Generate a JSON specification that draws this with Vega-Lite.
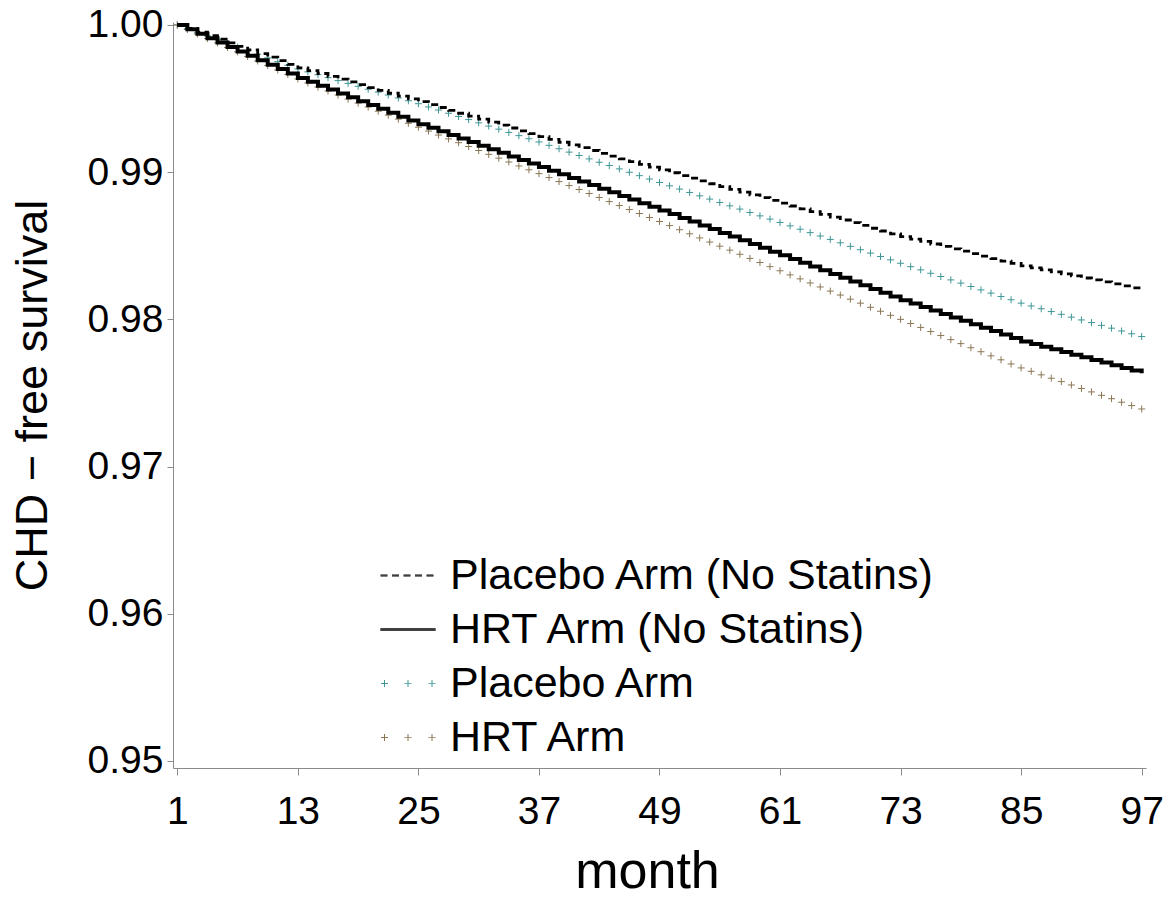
{
  "$schema": "https://vega.github.io/schema/vega-lite/v6.json",
  "width": 973,
  "height": 746,
  "autosize": {"type": "none"},
  "padding": {"left": 173, "top": 22, "right": 29, "bottom": 130},
  "background": "white",
  "config": {"view": {"stroke": null}, "font": "Liberation Sans"},
  "data": {"name": "km"},
  "datasets": {
    "km": [
      {"month":1,"plaNS":1.00000,"hrtNS":1.00000,"pla":1.00000,"hrt":1.00000},
      {"month":2,"plaNS":0.99976,"hrtNS":0.99970,"pla":0.99975,"hrt":0.99969},
      {"month":3,"plaNS":0.99951,"hrtNS":0.99940,"pla":0.99950,"hrt":0.99939},
      {"month":4,"plaNS":0.99927,"hrtNS":0.99910,"pla":0.99925,"hrt":0.99908},
      {"month":5,"plaNS":0.99903,"hrtNS":0.99880,"pla":0.99900,"hrt":0.99878},
      {"month":6,"plaNS":0.99878,"hrtNS":0.99850,"pla":0.99875,"hrt":0.99847},
      {"month":7,"plaNS":0.99854,"hrtNS":0.99820,"pla":0.99850,"hrt":0.99817},
      {"month":8,"plaNS":0.99830,"hrtNS":0.99790,"pla":0.99826,"hrt":0.99786},
      {"month":9,"plaNS":0.99805,"hrtNS":0.99760,"pla":0.99801,"hrt":0.99755},
      {"month":10,"plaNS":0.99781,"hrtNS":0.99730,"pla":0.99776,"hrt":0.99725},
      {"month":11,"plaNS":0.99757,"hrtNS":0.99700,"pla":0.99751,"hrt":0.99694},
      {"month":12,"plaNS":0.99732,"hrtNS":0.99670,"pla":0.99726,"hrt":0.99664},
      {"month":13,"plaNS":0.99708,"hrtNS":0.99640,"pla":0.99701,"hrt":0.99633},
      {"month":14,"plaNS":0.99689,"hrtNS":0.99614,"pla":0.99681,"hrt":0.99606},
      {"month":15,"plaNS":0.99670,"hrtNS":0.99587,"pla":0.99662,"hrt":0.99578},
      {"month":16,"plaNS":0.99651,"hrtNS":0.99561,"pla":0.99642,"hrt":0.99551},
      {"month":17,"plaNS":0.99632,"hrtNS":0.99535,"pla":0.99622,"hrt":0.99524},
      {"month":18,"plaNS":0.99613,"hrtNS":0.99509,"pla":0.99603,"hrt":0.99496},
      {"month":19,"plaNS":0.99594,"hrtNS":0.99482,"pla":0.99583,"hrt":0.99469},
      {"month":20,"plaNS":0.99574,"hrtNS":0.99456,"pla":0.99563,"hrt":0.99442},
      {"month":21,"plaNS":0.99555,"hrtNS":0.99430,"pla":0.99544,"hrt":0.99414},
      {"month":22,"plaNS":0.99536,"hrtNS":0.99404,"pla":0.99524,"hrt":0.99387},
      {"month":23,"plaNS":0.99517,"hrtNS":0.99377,"pla":0.99504,"hrt":0.99360},
      {"month":24,"plaNS":0.99498,"hrtNS":0.99351,"pla":0.99485,"hrt":0.99332},
      {"month":25,"plaNS":0.99479,"hrtNS":0.99325,"pla":0.99465,"hrt":0.99305},
      {"month":26,"plaNS":0.99459,"hrtNS":0.99301,"pla":0.99443,"hrt":0.99279},
      {"month":27,"plaNS":0.99439,"hrtNS":0.99277,"pla":0.99422,"hrt":0.99252},
      {"month":28,"plaNS":0.99419,"hrtNS":0.99252,"pla":0.99400,"hrt":0.99226},
      {"month":29,"plaNS":0.99400,"hrtNS":0.99228,"pla":0.99378,"hrt":0.99200},
      {"month":30,"plaNS":0.99380,"hrtNS":0.99204,"pla":0.99357,"hrt":0.99174},
      {"month":31,"plaNS":0.99360,"hrtNS":0.99180,"pla":0.99335,"hrt":0.99147},
      {"month":32,"plaNS":0.99340,"hrtNS":0.99156,"pla":0.99313,"hrt":0.99121},
      {"month":33,"plaNS":0.99320,"hrtNS":0.99132,"pla":0.99292,"hrt":0.99095},
      {"month":34,"plaNS":0.99300,"hrtNS":0.99107,"pla":0.99270,"hrt":0.99069},
      {"month":35,"plaNS":0.99281,"hrtNS":0.99083,"pla":0.99248,"hrt":0.99042},
      {"month":36,"plaNS":0.99261,"hrtNS":0.99059,"pla":0.99227,"hrt":0.99016},
      {"month":37,"plaNS":0.99241,"hrtNS":0.99035,"pla":0.99205,"hrt":0.98990},
      {"month":38,"plaNS":0.99222,"hrtNS":0.99010,"pla":0.99182,"hrt":0.98963},
      {"month":39,"plaNS":0.99203,"hrtNS":0.98986,"pla":0.99159,"hrt":0.98936},
      {"month":40,"plaNS":0.99185,"hrtNS":0.98961,"pla":0.99136,"hrt":0.98909},
      {"month":41,"plaNS":0.99166,"hrtNS":0.98937,"pla":0.99113,"hrt":0.98882},
      {"month":42,"plaNS":0.99147,"hrtNS":0.98912,"pla":0.99090,"hrt":0.98855},
      {"month":43,"plaNS":0.99128,"hrtNS":0.98888,"pla":0.99067,"hrt":0.98828},
      {"month":44,"plaNS":0.99109,"hrtNS":0.98863,"pla":0.99045,"hrt":0.98800},
      {"month":45,"plaNS":0.99090,"hrtNS":0.98838,"pla":0.99022,"hrt":0.98773},
      {"month":46,"plaNS":0.99072,"hrtNS":0.98814,"pla":0.98999,"hrt":0.98746},
      {"month":47,"plaNS":0.99053,"hrtNS":0.98789,"pla":0.98976,"hrt":0.98719},
      {"month":48,"plaNS":0.99034,"hrtNS":0.98765,"pla":0.98953,"hrt":0.98692},
      {"month":49,"plaNS":0.99015,"hrtNS":0.98740,"pla":0.98930,"hrt":0.98665},
      {"month":50,"plaNS":0.98996,"hrtNS":0.98715,"pla":0.98907,"hrt":0.98637},
      {"month":51,"plaNS":0.98977,"hrtNS":0.98689,"pla":0.98885,"hrt":0.98609},
      {"month":52,"plaNS":0.98959,"hrtNS":0.98664,"pla":0.98862,"hrt":0.98581},
      {"month":53,"plaNS":0.98940,"hrtNS":0.98638,"pla":0.98839,"hrt":0.98553},
      {"month":54,"plaNS":0.98921,"hrtNS":0.98613,"pla":0.98817,"hrt":0.98525},
      {"month":55,"plaNS":0.98902,"hrtNS":0.98587,"pla":0.98794,"hrt":0.98497},
      {"month":56,"plaNS":0.98883,"hrtNS":0.98562,"pla":0.98771,"hrt":0.98470},
      {"month":57,"plaNS":0.98864,"hrtNS":0.98537,"pla":0.98749,"hrt":0.98442},
      {"month":58,"plaNS":0.98846,"hrtNS":0.98511,"pla":0.98726,"hrt":0.98414},
      {"month":59,"plaNS":0.98827,"hrtNS":0.98486,"pla":0.98703,"hrt":0.98386},
      {"month":60,"plaNS":0.98808,"hrtNS":0.98460,"pla":0.98681,"hrt":0.98358},
      {"month":61,"plaNS":0.98789,"hrtNS":0.98435,"pla":0.98658,"hrt":0.98330},
      {"month":62,"plaNS":0.98770,"hrtNS":0.98410,"pla":0.98635,"hrt":0.98302},
      {"month":63,"plaNS":0.98751,"hrtNS":0.98384,"pla":0.98612,"hrt":0.98275},
      {"month":64,"plaNS":0.98732,"hrtNS":0.98359,"pla":0.98589,"hrt":0.98247},
      {"month":65,"plaNS":0.98713,"hrtNS":0.98333,"pla":0.98566,"hrt":0.98220},
      {"month":66,"plaNS":0.98694,"hrtNS":0.98308,"pla":0.98543,"hrt":0.98192},
      {"month":67,"plaNS":0.98675,"hrtNS":0.98282,"pla":0.98520,"hrt":0.98165},
      {"month":68,"plaNS":0.98657,"hrtNS":0.98257,"pla":0.98496,"hrt":0.98137},
      {"month":69,"plaNS":0.98638,"hrtNS":0.98232,"pla":0.98473,"hrt":0.98110},
      {"month":70,"plaNS":0.98619,"hrtNS":0.98206,"pla":0.98450,"hrt":0.98082},
      {"month":71,"plaNS":0.98600,"hrtNS":0.98181,"pla":0.98427,"hrt":0.98055},
      {"month":72,"plaNS":0.98581,"hrtNS":0.98155,"pla":0.98404,"hrt":0.98027},
      {"month":73,"plaNS":0.98562,"hrtNS":0.98130,"pla":0.98381,"hrt":0.98000},
      {"month":74,"plaNS":0.98545,"hrtNS":0.98107,"pla":0.98358,"hrt":0.97972},
      {"month":75,"plaNS":0.98529,"hrtNS":0.98083,"pla":0.98336,"hrt":0.97945},
      {"month":76,"plaNS":0.98512,"hrtNS":0.98060,"pla":0.98313,"hrt":0.97917},
      {"month":77,"plaNS":0.98496,"hrtNS":0.98037,"pla":0.98291,"hrt":0.97890},
      {"month":78,"plaNS":0.98479,"hrtNS":0.98013,"pla":0.98268,"hrt":0.97862},
      {"month":79,"plaNS":0.98463,"hrtNS":0.97990,"pla":0.98246,"hrt":0.97835},
      {"month":80,"plaNS":0.98446,"hrtNS":0.97967,"pla":0.98223,"hrt":0.97807},
      {"month":81,"plaNS":0.98429,"hrtNS":0.97943,"pla":0.98200,"hrt":0.97780},
      {"month":82,"plaNS":0.98413,"hrtNS":0.97920,"pla":0.98178,"hrt":0.97752},
      {"month":83,"plaNS":0.98396,"hrtNS":0.97897,"pla":0.98155,"hrt":0.97725},
      {"month":84,"plaNS":0.98380,"hrtNS":0.97873,"pla":0.98133,"hrt":0.97697},
      {"month":85,"plaNS":0.98363,"hrtNS":0.97850,"pla":0.98110,"hrt":0.97670},
      {"month":86,"plaNS":0.98349,"hrtNS":0.97832,"pla":0.98091,"hrt":0.97647},
      {"month":87,"plaNS":0.98336,"hrtNS":0.97814,"pla":0.98072,"hrt":0.97623},
      {"month":88,"plaNS":0.98322,"hrtNS":0.97796,"pla":0.98053,"hrt":0.97600},
      {"month":89,"plaNS":0.98309,"hrtNS":0.97778,"pla":0.98034,"hrt":0.97577},
      {"month":90,"plaNS":0.98295,"hrtNS":0.97760,"pla":0.98015,"hrt":0.97554},
      {"month":91,"plaNS":0.98281,"hrtNS":0.97742,"pla":0.97996,"hrt":0.97530},
      {"month":92,"plaNS":0.98268,"hrtNS":0.97724,"pla":0.97978,"hrt":0.97507},
      {"month":93,"plaNS":0.98254,"hrtNS":0.97706,"pla":0.97959,"hrt":0.97484},
      {"month":94,"plaNS":0.98241,"hrtNS":0.97688,"pla":0.97940,"hrt":0.97461},
      {"month":95,"plaNS":0.98227,"hrtNS":0.97670,"pla":0.97921,"hrt":0.97437},
      {"month":96,"plaNS":0.98214,"hrtNS":0.97652,"pla":0.97902,"hrt":0.97414},
      {"month":97,"plaNS":0.98200,"hrtNS":0.97634,"pla":0.97883,"hrt":0.97391}
    ]
  },
  "transform": [{"fold": ["plaNS", "hrtNS", "pla", "hrt"], "as": ["key", "v"]}],
  "encoding": {
    "x": {"field": "month", "type": "quantitative", "scale": {"domain": [0.57, 97.43], "nice": false, "zero": false},
      "axis": {"values": [1, 13, 25, 37, 49, 61, 73, 85, 97], "title": "month", "grid": false, "tickSize": 7, "labelPadding": 17, "labelFontSize": 39, "labelFont": "Liberation Sans", "labelColor": "black", "titleFont": "Liberation Sans", "titleFontSize": 52, "titleFontWeight": "normal", "titleColor": "black", "titleX": 474, "titleY": 119, "titleAlign": "center", "titleBaseline": "alphabetic", "domainColor": "#8a8a8a", "tickColor": "#8a8a8a", "domainWidth": 1, "tickWidth": 1, "labelFlush": false, "labelOverlap": false}},
    "y": {"field": "v", "type": "quantitative", "scale": {"domain": [0.94952, 1.0002], "nice": false, "zero": false},
      "axis": {"values": [0.95, 0.96, 0.97, 0.98, 0.99, 1.0], "format": ".2f", "title": "CHD − free survival", "grid": false, "tickSize": 6, "labelPadding": 4, "labelFontSize": 39, "labelFont": "Liberation Sans", "labelColor": "black", "titleFont": "Liberation Sans", "titleFontSize": 45, "titleFontWeight": "normal", "titleColor": "black", "titleX": -127, "titleY": 373, "titleAngle": -90, "titleBaseline": "alphabetic", "titleAlign": "center", "domainColor": "#8a8a8a", "tickColor": "#8a8a8a", "domainWidth": 1, "tickWidth": 1, "labelFlush": false, "labelOverlap": false}}
  },
  "layer": [
    {
      "transform": [{"filter": {"field": "key", "oneOf": ["pla", "hrt"]}}],
      "mark": {"type": "point", "shape": "M-1,0H1M0,-1V1", "size": 49, "filled": false, "strokeWidth": 1, "opacity": 1},
      "encoding": {
        "color": {"field": "key", "type": "nominal",
          "scale": {"domain": ["plaNS", "hrtNS", "pla", "hrt"], "range": ["#000000", "#000000", "#3F9696", "#8B7755"]},
          "legend": {"orient": "none", "legendX": 213.5, "legendY": 532, "title": null, "padding": 0,
            "labelFontSize": 43, "labelFont": "Liberation Sans", "labelColor": "black", "labelLimit": 1000, "labelOffset": 20.5,
            "symbolSize": 400, "symbolStrokeWidth": 1, "rowPadding": 10, "symbolOpacity": 1,
            "labelExpr": "datum.value == 'plaNS' ? 'Placebo Arm (No Statins)' : datum.value == 'hrtNS' ? 'HRT Arm (No Statins)' : datum.value == 'pla' ? 'Placebo Arm' : 'HRT Arm'"}}
      }
    },
    {
      "transform": [{"filter": {"field": "key", "oneOf": ["plaNS", "hrtNS"]}}],
      "mark": {"type": "line", "interpolate": "step-after"},
      "encoding": {
        "color": {"field": "key", "type": "nominal"},
        "strokeDash": {"field": "key", "type": "nominal",
          "scale": {"domain": ["plaNS", "hrtNS", "pla", "hrt"], "range": [[7, 4.5], [1, 0], [1, 0], [1, 0]]}},
        "strokeWidth": {"condition": {"test": "datum.key == 'hrtNS'", "value": 4}, "value": 2.8}
      }
    },
    {
      "transform": [{"filter": "datum.v > 2"}],
      "mark": {"type": "point", "filled": false, "opacity": 1, "strokeWidth": 1},
      "encoding": {
        "color": {"field": "key", "type": "nominal"},
        "shape": {"field": "key", "type": "nominal",
          "scale": {"domain": ["plaNS", "hrtNS", "pla", "hrt"], "range": ["M-2.75,-0.05H2.75M-2.75,0.05H2.75", "M-2.75,-0.1H2.75M-2.75,0H2.75M-2.75,0.1H2.75", "M-2.7,0H-2.0M-2.35,-0.35V0.35M-0.35,0H0.35M0,-0.35V0.35M2.05,0H2.75M2.4,-0.35V0.35", "M-2.7,0H-2.0M-2.35,-0.35V0.35M-0.35,0H0.35M0,-0.35V0.35M2.05,0H2.75M2.4,-0.35V0.35"]}}
      }
    }
  ]
}
